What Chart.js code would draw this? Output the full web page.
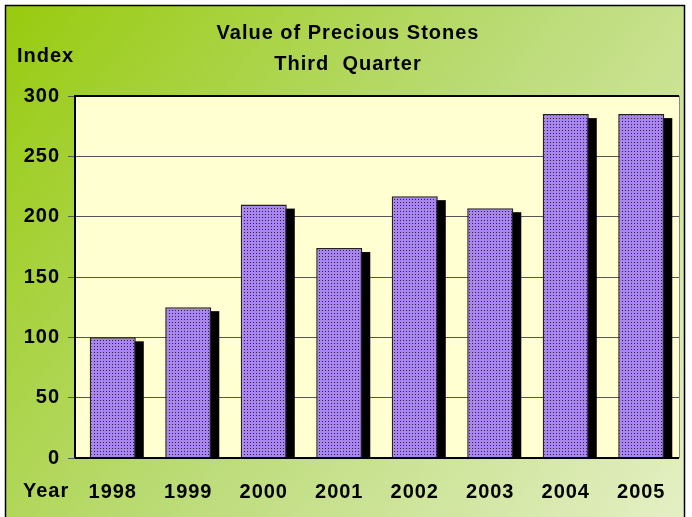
<!DOCTYPE html>
<html>
<head>
<meta charset="utf-8">
<script src="https://cdn.jsdelivr.net/npm/chart.js@4.4.1/dist/chart.umd.min.js"></script>
<style>
  html, body { margin: 0; padding: 0; background: #fff; }
  #wrap { width: 692px; height: 517px; }
</style>
</head>
<body>
<div id="wrap"><canvas id="chart" width="692" height="517"></canvas></div>
<script>
const years = ["1998", "1999", "2000", "2001", "2002", "2003", "2004", "2005"];
const values = [100, 125, 210, 174, 217, 207, 285, 285];
const titleLines = ["Value of Precious Stones", "Third  Quarter"];
const yLabel = "Index";
const xLabel = "Year";

const FONT = "'Liberation Sans', Arial, sans-serif";

// motif pointillé des barres
function dotPattern() {
  const c = document.createElement("canvas");
  c.width = 3;
  c.height = 3;
  const g = c.getContext("2d");
  g.fillStyle = "#a985f2";
  g.fillRect(0, 0, 3, 3);
  g.fillStyle = "#2e2240";
  g.fillRect(1, 1, 1, 1);
  return g.createPattern(c, "repeat");
}

// fond dégradé + textes
const decor = {
  id: "decor",
  beforeDraw(chart) {
    const ctx = chart.ctx;
    const a = chart.chartArea;
    ctx.letterSpacing = "1px";
    ctx.save();
    ctx.fillStyle = "#fff";
    ctx.fillRect(0, 0, chart.width, chart.height);
    const grad = ctx.createLinearGradient(5, 5, 684, 517);
    grad.addColorStop(0, "#98cb0e");
    grad.addColorStop(0.5, "#bbdb76");
    grad.addColorStop(1, "#e4efc4");
    ctx.fillStyle = grad;
    ctx.fillRect(5, 5, 679, 512);
    ctx.strokeStyle = "#000";
    ctx.lineWidth = 1.5;
    ctx.strokeRect(5.5, 5.5, 679, 515);
    ctx.fillStyle = "#ffffd2";
    ctx.fillRect(a.left, a.top, a.right - a.left, a.bottom - a.top);
    ctx.restore();
  },
  beforeDatasetsDraw(chart) {
    const ctx = chart.ctx;
    const meta = chart.getDatasetMeta(0);
    ctx.save();
    ctx.fillStyle = "#000";
    meta.data.forEach((bar) => {
      const w = bar.width;
      ctx.fillRect(bar.x - w / 2 + 8, bar.y + 4, w, bar.base - bar.y - 4);
    });
    ctx.restore();
  },
  afterDraw(chart) {
    const ctx = chart.ctx;
    const a = chart.chartArea;
    ctx.save();
    ctx.strokeStyle = "#000";
    ctx.lineWidth = 2;
    ctx.beginPath();
    ctx.moveTo(a.left, a.bottom);
    ctx.lineTo(a.left, a.top);
    ctx.lineTo(a.right, a.top);
    ctx.stroke();
    ctx.beginPath();
    ctx.moveTo(a.left, a.bottom);
    ctx.lineTo(a.right, a.bottom);
    ctx.stroke();
    ctx.strokeStyle = "#888";
    ctx.lineWidth = 1;
    ctx.beginPath();
    ctx.moveTo(a.right + 0.5, a.top);
    ctx.lineTo(a.right + 0.5, a.bottom);
    ctx.stroke();

    ctx.fillStyle = "#000";
    ctx.font = "bold 20px " + FONT;
    ctx.letterSpacing = "1px";
    ctx.textBaseline = "middle";
    ctx.textAlign = "center";
    ctx.fillText(titleLines[0], 348, 33);
    ctx.fillText(titleLines[1], 348, 64);
    ctx.textAlign = "left";
    ctx.fillText(yLabel, 17, 56);
    ctx.fillText(xLabel, 23, 491);
    ctx.restore();
  },
};

const ctx = document.getElementById("chart").getContext("2d");
new Chart(ctx, {
  type: "bar",
  data: {
    labels: years,
    datasets: [
      {
        data: values,
        backgroundColor: dotPattern(),
        borderColor: "#222",
        borderWidth: 1.5,
        borderSkipped: "bottom",
        barPercentage: 0.61,
        categoryPercentage: 1,
      },
    ],
  },
  options: {
    responsive: false,
    animation: false,
    layout: { padding: { top: 96, right: 13, left: 0, bottom: 0 } },
    plugins: { legend: { display: false }, title: { display: false }, tooltip: { enabled: false } },
    scales: {
      x: {
        grid: { display: false, drawTicks: false },
        border: { display: false },
        ticks: { color: "#000", font: { family: FONT, size: 20, weight: "bold" }, padding: 22 },
        afterFit: (s) => { s.height = 59; },
      },
      y: {
        min: 0,
        max: 300,
        grid: { color: "#555", lineWidth: 1, tickLength: 7, tickColor: "#555" },
        border: { display: false },
        ticks: { stepSize: 50, color: "#000", font: { family: FONT, size: 20, weight: "bold" }, padding: 8 },
        afterFit: (s) => { s.width = 75; },
      },
    },
  },
  plugins: [decor],
});
</script>
</body>
</html>
